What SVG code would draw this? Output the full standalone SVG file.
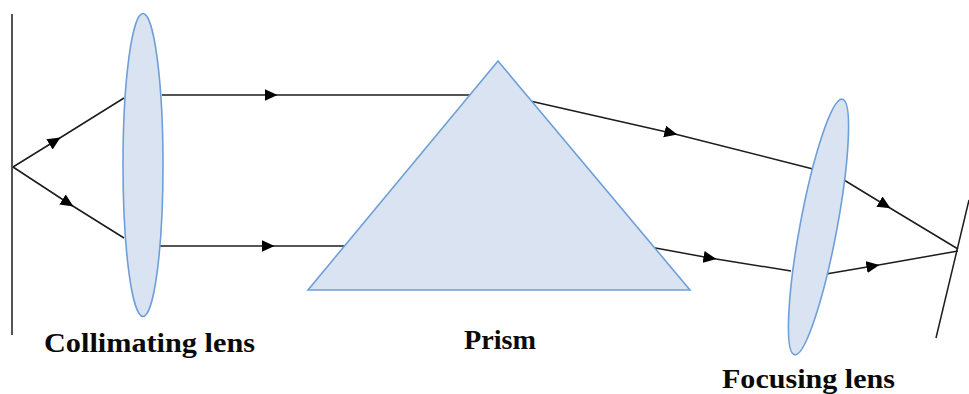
<svg xmlns="http://www.w3.org/2000/svg" width="969" height="394" viewBox="0 0 969 394">
<style>
.shape{fill:#dae3f1;stroke:#6f9fd8;stroke-width:1.6}
.ray{fill:none;stroke:#1c1c1c;stroke-width:1.5;marker-mid:url(#head)}
.plane{fill:none;stroke:#1c1c1c;stroke-width:1.5}
.label{font-family:"Liberation Serif",serif;font-weight:bold;font-size:27px;fill:#0a0a0a}
</style>
<defs>
<marker id="head" viewBox="0 0 12 12" refX="6" refY="6" markerWidth="13" markerHeight="13" markerUnits="userSpaceOnUse" orient="auto">
<path d="M0 0.5L12 6L0 11.5Z" fill="#000"/>
</marker>
</defs>
<rect width="969" height="394" fill="#fff"/>
<g id="connectors">
<path class="plane" d="M12 14V335"/>
<path class="plane" d="M969 200L936 338"/>
<path class="ray" d="M13 167L55 141L124 98"/>
<path class="ray" d="M13 167L68 203L124 238"/>
<path class="ray" d="M162 95L271 95L475 95"/>
<path class="ray" d="M160 246L268 246L350 246"/>
<path class="ray" d="M530 101L671 133L813 169"/>
<path class="ray" d="M650 247L710 258L791 271"/>
<path class="ray" d="M844 180L885 205L958 249"/>
<path class="ray" d="M826 274L873 266L958 251"/>
</g>
<g id="collimating-lens">
<ellipse class="shape" cx="143" cy="165" rx="20" ry="151.500"/>
<text class="label" x="44" y="352" textLength="211" lengthAdjust="spacingAndGlyphs">Collimating lens</text>
</g>
<g id="prism">
<path class="shape" d="M498 61L690 290H308Z"/>
<text class="label" x="464" y="349" textLength="72" lengthAdjust="spacingAndGlyphs">Prism</text>
</g>
<g id="focusing-lens">
<ellipse class="shape" cx="818.500" cy="227" rx="18.500" ry="130" transform="rotate(10.600 818.500 227)"/>
<text class="label" x="722" y="388" textLength="173" lengthAdjust="spacingAndGlyphs">Focusing lens</text>
</g>
</svg>
